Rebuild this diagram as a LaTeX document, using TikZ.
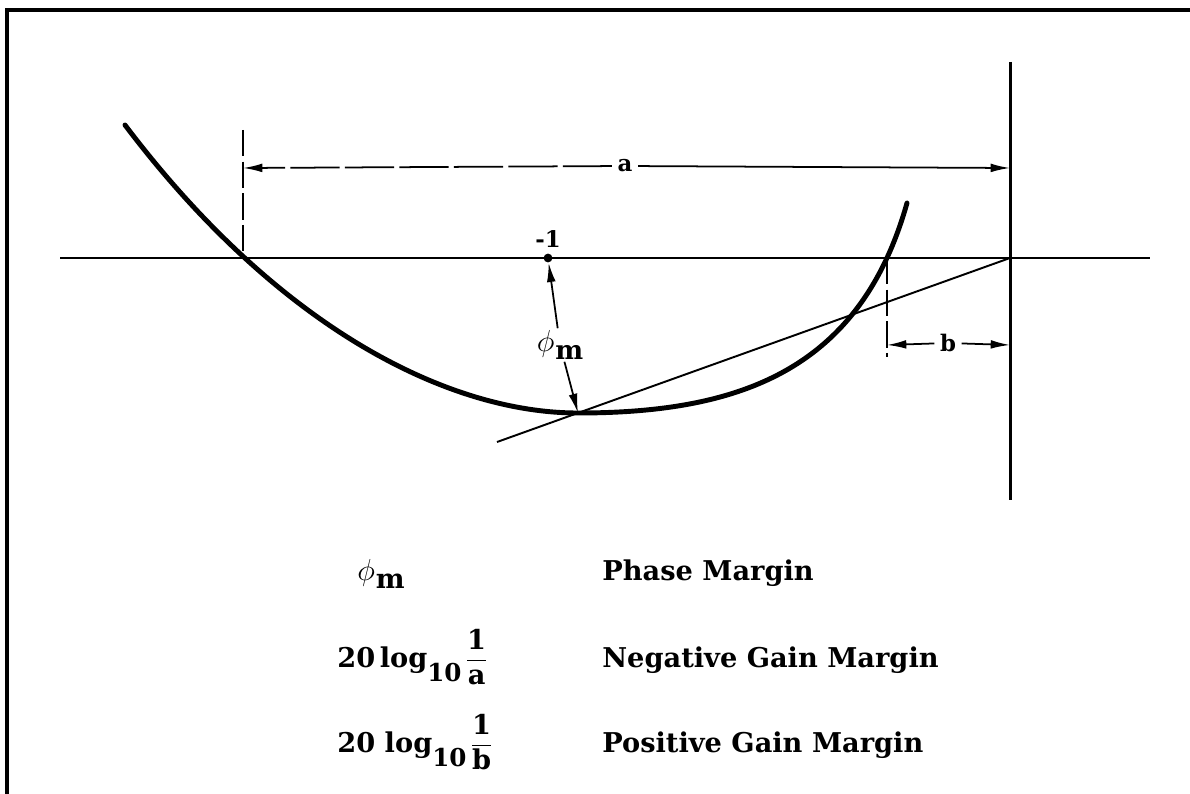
\documentclass[tikz,border=0pt]{standalone}
\usepackage{amsmath}
\usepackage{fontspec}
\setmainfont{DejaVu Serif}
\usetikzlibrary{positioning,arrows.meta}
\newcommand{\phisub}{{\fontsize{18}{18}\selectfont$\phi$}\kern0.5pt\raisebox{-0.6ex}{m}}
\newcommand{\logten}{log\raisebox{-0.55em}{\fontsize{14}{15}\selectfont 10}\kern2pt}

\begin{document}
\begin{tikzpicture}[
    x=0.02cm, y=-0.02cm,
    frame/.style={line width=2pt},
    axis/.style={line width=1.1pt},
    curve/.style={line width=2.8pt, line cap=round},
    dimline/.style={line width=1.2pt, dash pattern=on 15pt off 3pt},
    arrow/.style={-{Latex[length=11pt, width=5pt]}, line width=1pt},
    lbl/.style={font=\fontsize{13}{15}\selectfont\bfseries, inner sep=3pt},
    legend/.style={font=\fontsize{15.5}{18}\selectfont\bfseries, anchor=base west, inner sep=0pt}
]
\useasboundingbox (0,0) rectangle (1190,794);
\draw[frame] (7,794) -- (7,10) -- (1190,10);

\draw[axis] (60,258) -- (1150,258);
\draw[line width=1.7pt] (1010,62) -- (1010,500);
\draw[axis] (497,442) -- (1010,258);
\draw[curve] (125,125) .. controls (280,330) and (450,413) .. (578,413)
    .. controls (740,413) and (860,370) .. (907,203);

\coordinate (a0) at (243,168);
\coordinate (a1) at (1010,168);
\coordinate (b0) at (887,345);
\coordinate (b1) at (1010,345);
\coordinate (touch) at (578,413);

\draw[dimline] (243,130) -- (243,258);
\draw[dimline] (887,258) -- (887,357);

\node[lbl] (alabel) at (625,166) {a};
\node[lbl] (blabel) at (948,343) {b};
\draw[arrow, dash pattern=on 28pt off 3pt] (alabel) -- (a0);
\draw[arrow] (alabel) -- (a1);
\draw[arrow] (blabel) -- (b0);
\draw[arrow] (blabel) -- (b1);

\node[circle, fill, inner sep=0pt, minimum size=5pt] (minus1) at (548,258) {};
\node[lbl, above=0pt of minus1] (mlabel) {-1};
\node[lbl, font=\fontsize{15}{17}\selectfont\bfseries, inner sep=1pt] (phim) at (560,345) {\phisub};
\draw[arrow] (phim) -- (minus1);
\draw[arrow] (phim) -- (touch);

\node[legend] (phsym) at (357,580) {\phisub};
\node[legend] (phtext) at (602,580) {Phase Margin};
\node[legend] (negsym) at (337,667) {20\,\logten$\dfrac{\text{1}}{\text{a}}$};
\node[legend] (negtext) at (602,667) {Negative Gain Margin};
\node[legend] (possym) at (337,752) {20 \logten$\dfrac{\text{1}}{\text{b}}$};
\node[legend] (postext) at (602,752) {Positive Gain Margin};
\end{tikzpicture}
\end{document}
